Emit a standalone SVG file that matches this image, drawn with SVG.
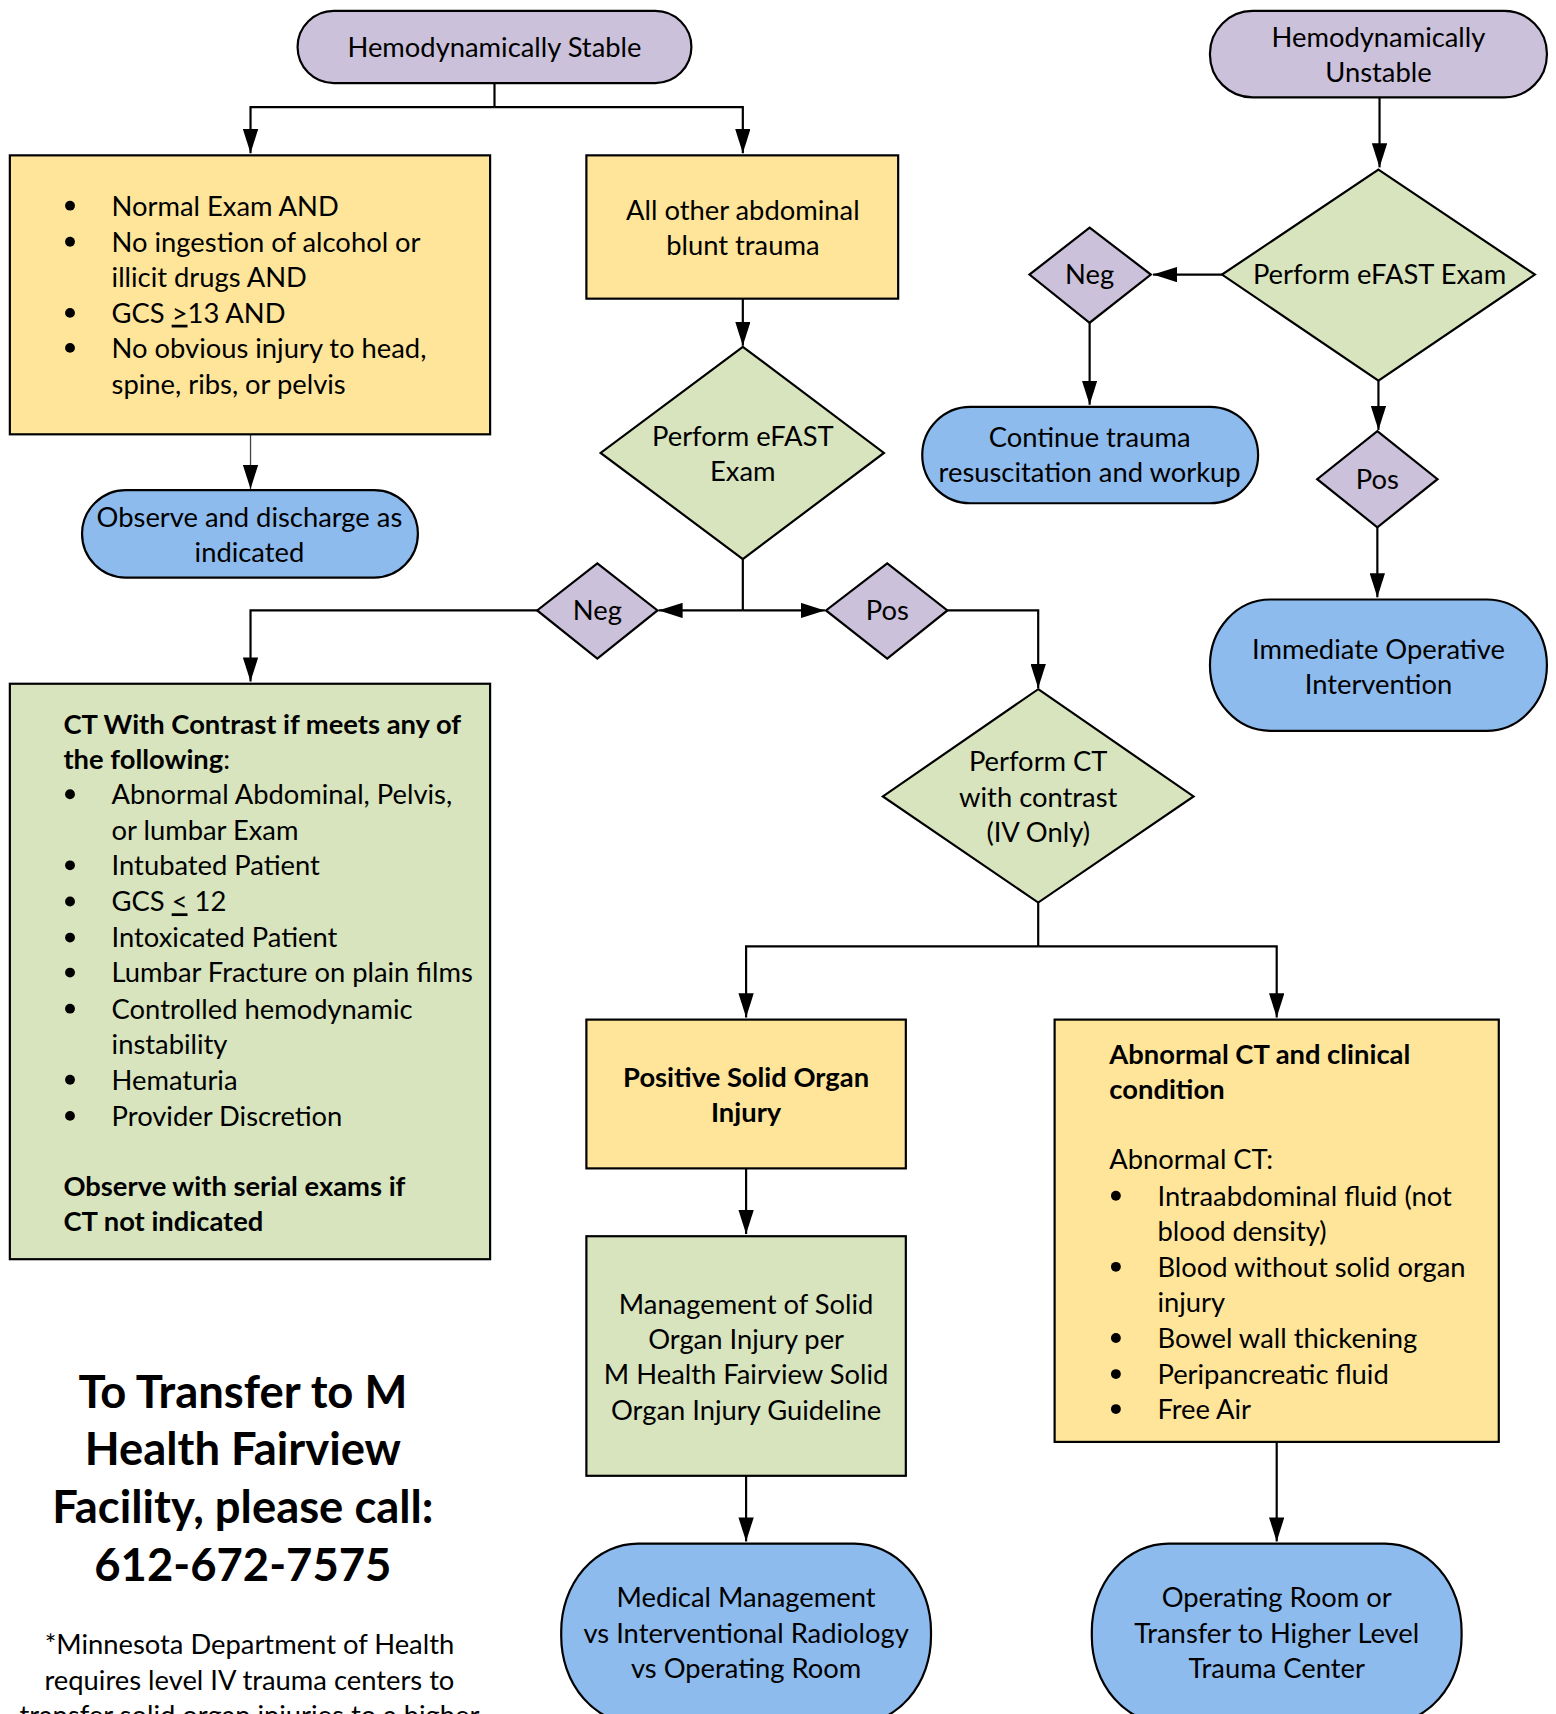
<svg xmlns="http://www.w3.org/2000/svg" width="1556" height="1714" viewBox="0 0 1556 1714">
<defs>
<marker id="arr" markerUnits="userSpaceOnUse" markerWidth="22" markerHeight="14" refX="22" refY="7" orient="auto" viewBox="0 0 22 14"><path d="M0,0 L22,7 L0,14 z" fill="#000"/></marker>
</defs>
<style>
.t{font-family:Lato,"Open Sans","Liberation Sans",sans-serif;font-size:25px;fill:#000}
.b{font-weight:700}
.m{text-anchor:middle}
.h{font-size:41.5px}
.s{stroke:#000;stroke-width:2}
.pu{fill:#CCC1DA}
.ye{fill:#FFE599}
.gr{fill:#D7E4BD}
.bl{fill:#8DBBEE}
.cn{fill:none;stroke:#000;stroke-width:2;marker-end:url(#arr)}
.ln{fill:none;stroke:#000;stroke-width:2}
.dot{fill:#000}
</style>
<rect width="1556" height="1714" fill="#fff"/>
<g transform="scale(1.094)">
<g id="connectors">
<path class="ln" d="M452,76 V98"/>
<path class="cn" d="M452,98 H229 V140"/>
<path class="cn" d="M452,98 H679 V140"/>
<path class="cn" d="M229,397 V447" style="stroke:#444;stroke-width:1.2"/>
<path class="cn" d="M679,273 V316"/>
<path class="ln" d="M679,511 V558"/>
<path class="cn" d="M679,558 H602"/>
<path class="cn" d="M679,558 H754"/>
<path class="cn" d="M491,558 H229 V623"/>
<path class="cn" d="M866,558 H949 V629"/>
<path class="ln" d="M949,825 V865"/>
<path class="cn" d="M949,865 H682 V930"/>
<path class="cn" d="M949,865 H1167 V930"/>
<path class="cn" d="M682,1068 V1128"/>
<path class="cn" d="M682,1349 V1409"/>
<path class="cn" d="M1167,1318 V1409"/>
<path class="cn" d="M1261,89 V153"/>
<path class="cn" d="M1117,251 H1054"/>
<path class="cn" d="M996,295 V370"/>
<path class="cn" d="M1260,348 V393"/>
<path class="cn" d="M1259,482 V546"/>
</g>
<g id="stable">
<rect class="s pu" x="272" y="10" width="360" height="66" rx="33"/>
<text class="t m" x="452" y="52">Hemodynamically Stable</text>
</g>
<g id="unstable">
<rect class="s pu" x="1106" y="10" width="308" height="79" rx="39"/>
<text class="t m" x="1260" y="43">Hemodynamically</text>
<text class="t m" x="1260" y="75">Unstable</text>
</g>
<g id="normal-exam">
<rect class="s ye" x="9" y="142" width="439" height="255"/>
<circle class="dot" cx="64" cy="188" r="4.5"/>
<circle class="dot" cx="64" cy="221" r="4.5"/>
<circle class="dot" cx="64" cy="286" r="4.5"/>
<circle class="dot" cx="64" cy="318" r="4.5"/>
<text class="t" x="102" y="197">Normal Exam AND</text>
<text class="t" x="102" y="230">No ingestion of alcohol or</text>
<text class="t" x="102" y="262">illicit drugs AND</text>
<text class="t" x="102" y="295">GCS <tspan text-decoration="underline">&gt;</tspan>13 AND</text>
<text class="t" x="102" y="327">No obvious injury to head,</text>
<text class="t" x="102" y="360">spine, ribs, or pelvis</text>
</g>
<g id="observe">
<rect class="s bl" x="75" y="448" width="307" height="80" rx="40"/>
<text class="t m" x="228" y="482">Observe and discharge as</text>
<text class="t m" x="228" y="514">indicated</text>
</g>
<g id="other-blunt">
<rect class="s ye" x="536" y="142" width="285" height="131"/>
<text class="t m" x="679" y="201">All other abdominal</text>
<text class="t m" x="679" y="233">blunt trauma</text>
</g>
<g id="efast-stable">
<polygon class="s gr" points="679,317 808,414 679,511 549,414"/>
<text class="t m" x="679" y="408">Perform eFAST</text>
<text class="t m" x="679" y="440">Exam</text>
</g>
<g id="neg-stable">
<polygon class="s pu" points="546,515 601,558 546,602 491,558"/>
<text class="t m" x="546" y="567">Neg</text>
</g>
<g id="pos-stable">
<polygon class="s pu" points="811,515 866,558 811,602 755,558"/>
<text class="t m" x="811" y="567">Pos</text>
</g>
<g id="ct-criteria">
<rect class="s gr" x="9" y="625" width="439" height="526"/>
<text class="t b" x="58" y="671">CT With Contrast if meets any of</text>
<text class="t" x="58" y="703"><tspan class="b">the following</tspan>:</text>
<circle class="dot" cx="64" cy="726" r="4.5"/>
<circle class="dot" cx="64" cy="791" r="4.5"/>
<circle class="dot" cx="64" cy="824" r="4.5"/>
<circle class="dot" cx="64" cy="857" r="4.5"/>
<circle class="dot" cx="64" cy="889" r="4.5"/>
<circle class="dot" cx="64" cy="922" r="4.5"/>
<circle class="dot" cx="64" cy="987" r="4.5"/>
<circle class="dot" cx="64" cy="1020" r="4.5"/>
<text class="t" x="102" y="735">Abnormal Abdominal, Pelvis,</text>
<text class="t" x="102" y="768">or lumbar Exam</text>
<text class="t" x="102" y="800">Intubated Patient</text>
<text class="t" x="102" y="833">GCS <tspan text-decoration="underline">&lt;</tspan> 12</text>
<text class="t" x="102" y="866">Intoxicated Patient</text>
<text class="t" x="102" y="898">Lumbar Fracture on plain films</text>
<text class="t" x="102" y="931">Controlled hemodynamic</text>
<text class="t" x="102" y="963">instability</text>
<text class="t" x="102" y="996">Hematuria</text>
<text class="t" x="102" y="1029">Provider Discretion</text>
<text class="t b" x="58" y="1093">Observe with serial exams if</text>
<text class="t b" x="58" y="1125">CT not indicated</text>
</g>
<g id="ct-contrast">
<polygon class="s gr" points="949,630 1091,728 949,825 807,728"/>
<text class="t m" x="949" y="705">Perform CT</text>
<text class="t m" x="949" y="738">with contrast</text>
<text class="t m" x="949" y="770">(IV Only)</text>
</g>
<g id="positive-solid">
<rect class="s ye" x="536" y="932" width="292" height="136"/>
<text class="t b m" x="682" y="994">Positive Solid Organ</text>
<text class="t b m" x="682" y="1026">Injury</text>
</g>
<g id="management">
<rect class="s gr" x="536" y="1130" width="292" height="219"/>
<text class="t m" x="682" y="1201">Management of Solid</text>
<text class="t m" x="682" y="1233">Organ Injury per</text>
<text class="t m" x="682" y="1265">M Health Fairview Solid</text>
<text class="t m" x="682" y="1298">Organ Injury Guideline</text>
</g>
<g id="medical">
<rect class="s bl" x="513" y="1411" width="338" height="165" rx="70" ry="80"/>
<text class="t m" x="682" y="1469">Medical Management</text>
<text class="t m" x="682" y="1502">vs Interventional Radiology</text>
<text class="t m" x="682" y="1534">vs Operating Room</text>
</g>
<g id="abnormal-ct">
<rect class="s ye" x="964" y="932" width="406" height="386"/>
<text class="t b" x="1014" y="973">Abnormal CT and clinical</text>
<text class="t b" x="1014" y="1005">condition</text>
<text class="t" x="1014" y="1069">Abnormal CT:</text>
<circle class="dot" cx="1020" cy="1093" r="4.5"/>
<circle class="dot" cx="1020" cy="1158" r="4.5"/>
<circle class="dot" cx="1020" cy="1223" r="4.5"/>
<circle class="dot" cx="1020" cy="1256" r="4.5"/>
<circle class="dot" cx="1020" cy="1288" r="4.5"/>
<text class="t" x="1058" y="1102">Intraabdominal fluid (not</text>
<text class="t" x="1058" y="1134">blood density)</text>
<text class="t" x="1058" y="1167">Blood without solid organ</text>
<text class="t" x="1058" y="1199">injury</text>
<text class="t" x="1058" y="1232">Bowel wall thickening</text>
<text class="t" x="1058" y="1265">Peripancreatic fluid</text>
<text class="t" x="1058" y="1297">Free Air</text>
</g>
<g id="operating">
<rect class="s bl" x="998" y="1411" width="338" height="165" rx="70" ry="80"/>
<text class="t m" x="1167" y="1469">Operating Room or</text>
<text class="t m" x="1167" y="1502">Transfer to Higher Level</text>
<text class="t m" x="1167" y="1534">Trauma Center</text>
</g>
<g id="efast-unstable">
<polygon class="s gr" points="1260,155 1403,251 1260,348 1117,251"/>
<text class="t m" x="1261" y="260">Perform eFAST Exam</text>
</g>
<g id="neg-unstable">
<polygon class="s pu" points="996,208 1052,251 996,295 941,251"/>
<text class="t m" x="996" y="260">Neg</text>
</g>
<g id="continue">
<rect class="s bl" x="843" y="372" width="307" height="88" rx="44"/>
<text class="t m" x="996" y="409">Continue trauma</text>
<text class="t m" x="996" y="441">resuscitation and workup</text>
</g>
<g id="pos-unstable">
<polygon class="s pu" points="1259,394 1314,438 1259,482 1204,438"/>
<text class="t m" x="1259" y="447">Pos</text>
</g>
<g id="immediate">
<rect class="s bl" x="1106" y="548" width="308" height="120" rx="55" ry="60"/>
<text class="t m" x="1260" y="602">Immediate Operative</text>
<text class="t m" x="1260" y="634">Intervention</text>
</g>
<g id="transfer-note">
<text class="t b m h" x="222" y="1287">To Transfer to M</text>
<text class="t b m h" x="222" y="1339">Health Fairview</text>
<text class="t b m h" x="222" y="1392">Facility, please call:</text>
<text class="t b m h" x="222" y="1445">612-672-7575</text>
<text class="t m" x="228" y="1512">*Minnesota Department of Health</text>
<text class="t m" x="228" y="1545">requires level IV trauma centers to</text>
<text class="t m" x="228" y="1577">transfer solid organ injuries to a higher</text>
</g>
</g>
</svg>
